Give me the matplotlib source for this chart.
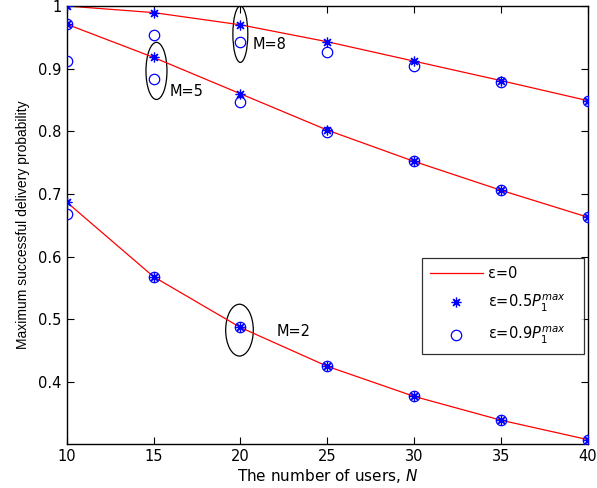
import matplotlib
matplotlib.use("Agg")
import matplotlib.pyplot as plt
from matplotlib.patches import Ellipse

plt.rcParams['font.family'] = ['DejaVu Sans']
plt.rcParams['mathtext.fontset'] = 'dejavusans'

N = [10, 15, 20, 25, 30, 35, 40]

# epsilon = 0 (analytical lines)
line_M8 = [1.000, 0.9895, 0.970, 0.943, 0.912, 0.881, 0.849]
line_M5 = [0.971, 0.918, 0.860, 0.802, 0.752, 0.706, 0.663]
line_M2 = [0.687, 0.568, 0.487, 0.425, 0.377, 0.339, 0.308]

# epsilon = 0.5 P1max (stars)
star_M8 = [1.000, 0.9895, 0.970, 0.943, 0.912, 0.881, 0.849]
star_M5 = [0.971, 0.918, 0.860, 0.802, 0.752, 0.706, 0.663]
star_M2 = [0.687, 0.568, 0.487, 0.425, 0.377, 0.339, 0.308]

# epsilon = 0.9 P1max (circles)
circ_M8 = [0.971, 0.954, 0.942, 0.926, 0.904, 0.878, 0.849]
circ_M5 = [0.912, 0.884, 0.847, 0.799, 0.752, 0.706, 0.663]
circ_M2 = [0.668, 0.568, 0.487, 0.425, 0.377, 0.339, 0.308]

fig = plt.figure(figsize=(5.97, 4.88), dpi=100)
ax = fig.add_axes([0.1117, 0.0902, 0.8727, 0.8975])

star = (8, 2, 0)
for i, (l, s, c) in enumerate([(line_M8, star_M8, circ_M8),
                               (line_M5, star_M5, circ_M5),
                               (line_M2, star_M2, circ_M2)]):
    ax.plot(N, l, color='red', lw=0.9, label='ε=0' if i == 0 else None, zorder=2)
    ax.plot(N, s, linestyle='none', marker=star, color='blue', markersize=7,
            markeredgewidth=0.9, label='ε=0.5$P_1^{max}$' if i == 0 else None, zorder=3)
    ax.plot(N, c, linestyle='none', marker='o', markerfacecolor='none',
            markeredgecolor='blue', markersize=7.5, markeredgewidth=0.9,
            label='ε=0.9$P_1^{max}$' if i == 0 else None, zorder=3)

# ellipses and annotations
ax.add_patch(Ellipse((20.0, 0.955), 0.86, 0.090, fill=False, edgecolor='black', lw=0.9))
ax.add_patch(Ellipse((15.17, 0.8964), 1.21, 0.0912, fill=False, edgecolor='black', lw=0.9))
ax.add_patch(Ellipse((19.95, 0.4827), 1.59, 0.0827, fill=False, edgecolor='black', lw=0.9))
ax.text(20.73, 0.939, 'M=8', fontsize=10.5, va='center', ha='left')
ax.text(15.9, 0.864, 'M=5', fontsize=10.5, va='center', ha='left')
ax.text(22.06, 0.48, 'M=2', fontsize=10.5, va='center', ha='left')

ax.set_xlim(10, 40)
ax.set_ylim(0.301, 1.0)
ax.set_xticks([10, 15, 20, 25, 30, 35, 40])
ax.set_yticks([0.4, 0.5, 0.6, 0.7, 0.8, 0.9, 1.0])
ax.set_yticklabels(['0.4', '0.5', '0.6', '0.7', '0.8', '0.9', '1'])
ax.tick_params(direction='in', top=True, right=True, labelsize=10.5, length=5, width=0.8)
for sp in ax.spines.values():
    sp.set_linewidth(1.0)

ax.set_xlabel('The number of users, $N$', fontsize=11, labelpad=2)
ax.set_ylabel('Maximum successful delivery probability', fontsize=10,
              family='Liberation Sans', labelpad=6)

leg = ax.legend(loc='upper left', bbox_to_anchor=(0.682, 0.205, 0.311, 0.220),
                mode='expand', borderaxespad=0.0, fontsize=10.5,
                frameon=True, fancybox=False, edgecolor='black', handlelength=3.6,
                borderpad=0.55, labelspacing=0.8, handletextpad=0.4)
leg.get_frame().set_linewidth(0.9)

fig.savefig('out.png', dpi=100)
